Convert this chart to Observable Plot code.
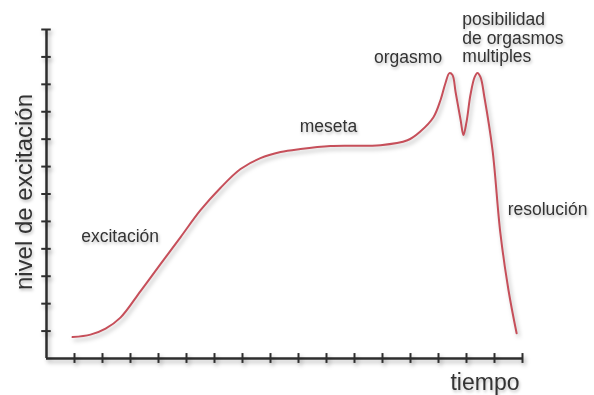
<!DOCTYPE html>
<html>
<head>
<meta charset="utf-8">
<script src="https://cdn.jsdelivr.net/npm/d3@7"></script>
<script src="https://cdn.jsdelivr.net/npm/@observablehq/plot@0.6"></script>
<style>
  html, body { margin: 0; padding: 0; background: #ffffff; }
  #chart svg { display: block; }
  #chart g[aria-label="rule"], #chart g[aria-label="line"] {
    filter: drop-shadow(2px 3px 2px rgba(0,0,0,0.28));
  }
  #chart g[aria-label="text"] {
    filter: drop-shadow(1px 2px 1.5px rgba(0,0,0,0.25));
  }
</style>
</head>
<body>
<div id="chart"></div>
<script>
// Curve: time (x) and arousal level (y)
const tiempo = [0.93, 1.57, 2.11, 2.64, 3.36, 4.07, 4.79, 5.5, 6.21, 6.93, 7.64, 8.36, 9.07, 10.14, 11.93, 12.89, 13.36, 13.82, 14.07, 14.25, 14.39, 14.5, 14.61, 14.79, 14.89, 15.0, 15.14, 15.29, 15.39, 15.5, 15.64, 15.93, 16.21, 16.5, 16.79];
const nivel  = [0.78, 0.87, 1.09, 1.49, 2.46, 3.44, 4.43, 5.41, 6.22, 6.91, 7.31, 7.53, 7.64, 7.75, 7.78, 7.96, 8.29, 8.80, 9.42, 10.05, 10.41, 10.34, 9.72, 8.70, 8.15, 8.62, 9.61, 10.26, 10.41, 10.26, 9.53, 7.60, 4.57, 2.49, 0.92];

// Tick positions (no tick labels in the original)
const xTicks = [1, 2, 3, 4, 5, 6, 7, 8, 9, 10, 11, 12, 13, 14, 15, 16, 17];
const yTicks = [1, 2, 3, 4, 5, 6, 7, 8, 9, 10, 11, 12];

// Phase annotations
const phaseLabels = ["excitación", "meseta", "orgasmo", "posibilidad\nde orgasmos\nmultiples", "resolución"];
const phaseX      = [1.24, 10.07, 14.13, 14.85, 16.47];
const phaseY      = [4.26, 8.27, 10.77, 10.80, 5.23];
const phaseAnchor = ["start", "middle", "end", "start", "start"];

const xTitle = "tiempo";
const yTitle = "nivel de excitación";

const curve = tiempo.map((t, i) => ({t, v: nivel[i]}));
const phases = phaseLabels.map((s, i) => ({s, x: phaseX[i], y: phaseY[i], a: phaseAnchor[i]}));

const axisColor = "#2e2e2e";
const textColor = "#333333";

const plot = Plot.plot({
  width: 594,
  height: 395,
  marginLeft: 46,
  marginRight: 72,
  marginTop: 29,
  marginBottom: 37,
  x: {domain: [0, 17], axis: null},
  y: {domain: [0, 12], axis: null},
  style: {fontFamily: "'Liberation Sans', Arial, Helvetica, sans-serif", background: "white", overflow: "visible"},
  marks: [
    // axis lines
    Plot.ruleY([0], {x1: 0, x2: 17, stroke: axisColor, strokeWidth: 2.5}),
    Plot.ruleX([0], {y1: 0, y2: 12, stroke: axisColor, strokeWidth: 2.5}),
    // crossing tick marks
    Plot.ruleX(xTicks, {x: d => d, y1: -0.18, y2: 0.18, stroke: axisColor, strokeWidth: 2}),
    Plot.ruleY(yTicks, {y: d => d, x1: -0.17, x2: 0.17, stroke: axisColor, strokeWidth: 2}),
    // the response curve
    Plot.line(curve, {x: "t", y: "v", curve: "catmull-rom", stroke: "#c64f5a", strokeWidth: 2}),
    // phase labels
    Plot.text(phases.filter(d => d.a === "start"), {x: "x", y: "y", text: "s", textAnchor: "start", lineAnchor: "bottom", lineHeight: 1.06, fontSize: 17.5, fill: textColor}),
    Plot.text(phases.filter(d => d.a === "middle"), {x: "x", y: "y", text: "s", textAnchor: "middle", lineAnchor: "bottom", fontSize: 17.5, fill: textColor}),
    Plot.text(phases.filter(d => d.a === "end"), {x: "x", y: "y", text: "s", textAnchor: "end", lineAnchor: "bottom", fontSize: 17.5, fill: textColor}),
    // axis titles
    Plot.text([xTitle], {frameAnchor: "bottom-right", text: d => d, textAnchor: "end", lineAnchor: "bottom", dx: -3, dy: 31, fontSize: 23, fill: textColor}),
    Plot.text([yTitle], {frameAnchor: "left", text: d => d, rotate: -90, textAnchor: "middle", lineAnchor: "middle", dx: -22, dy: -2, fontSize: 24, fill: textColor})
  ]
});

document.getElementById("chart").appendChild(plot);
</script>
</body>
</html>
